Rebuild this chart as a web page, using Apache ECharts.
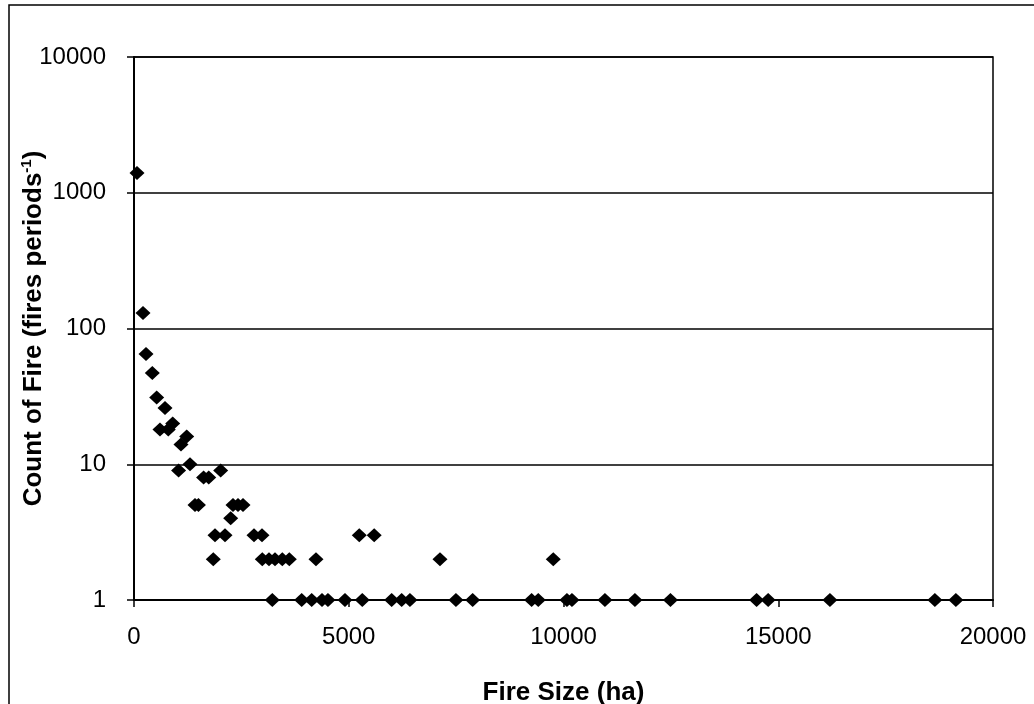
<!DOCTYPE html>
<html>
<head>
<meta charset="utf-8">
<script src="https://cdn.jsdelivr.net/npm/echarts@6/dist/echarts.min.js"></script>
<style>
  html, body { margin: 0; padding: 0; background: #ffffff; }
  #chart { width: 1034px; height: 704px; }
</style>
</head>
<body>
<div id="chart"></div>
<script>
// Fire size (ha) and number of fires per period
const sizeHa = [
  70, 210, 280, 426, 528, 722, 605, 798, 901, 1227, 1094, 1038, 1304,
  1620, 1740, 2018, 1420, 1500, 2305, 2421, 2538, 2251, 1886, 2119,
  2794, 2980, 1846, 2987, 3143, 3283, 3453, 3616, 4237, 5245, 5592,
  7124, 9762,
  3220, 3904, 4137, 4377, 4516, 4912, 5315, 5999, 6232, 6425, 7496,
  7885, 9258, 9412, 10080, 10197, 10965, 11663, 12490, 14496, 14765,
  16203, 18647, 19136
];
const fireCount = [
  1400, 130, 65, 47, 31, 26, 18, 18, 20, 16, 14, 9, 10,
  8, 8, 9, 5, 5, 5, 5, 5, 4, 3, 3,
  3, 3, 2, 2, 2, 2, 2, 2, 2, 3, 3,
  2, 2,
  1, 1, 1, 1, 1, 1, 1, 1, 1, 1, 1,
  1, 1, 1, 1, 1, 1, 1, 1, 1, 1,
  1, 1, 1
];
const xTicks = { min: 0, max: 20000, step: 5000 };
const yTicks = { min: 1, max: 10000 };

const points = sizeHa.map((s, i) => [s, fireCount[i]]);

const FONT = '"Liberation Sans", Arial, sans-serif';
const chart = echarts.init(document.getElementById('chart'), null, { renderer: 'canvas' });

chart.setOption({
  animation: false,
  backgroundColor: '#ffffff',
  grid: {
    left: 134, right: 41, top: 57, bottom: 104,
    containLabel: false,
    outerBoundsMode: 'none',
    show: true, borderColor: '#000', borderWidth: 1.5, backgroundColor: 'transparent'
  },
  // frame around the whole figure (left and top edges fall inside the canvas)
  graphic: [{
    type: 'rect',
    shape: { x: 9, y: 5, width: 1200, height: 900 },
    style: { fill: 'none', stroke: '#000', lineWidth: 1.5 },
    silent: true
  }],
  xAxis: {
    type: 'value',
    min: xTicks.min, max: xTicks.max, interval: xTicks.step,
    name: 'Fire Size (ha)',
    nameLocation: 'middle',
    nameGap: 80,
    nameMoveOverlap: false,
    nameTextStyle: { fontFamily: FONT, fontSize: 26, fontWeight: 'bold', color: '#000' },
    axisLine: { show: true, lineStyle: { color: '#000', width: 2 } },
    axisTick: { show: true, inside: false, length: 7, lineStyle: { color: '#000', width: 1.5 } },
    axisLabel: { fontFamily: FONT, fontSize: 24, color: '#000', margin: 25, formatter: v => String(v) },
    splitLine: { show: false }
  },
  yAxis: {
    type: 'log',
    logBase: 10,
    min: yTicks.min, max: yTicks.max,
    name: '{t|Count of Fire (fires periods}{s|-1}{t|)}',
    nameLocation: 'middle',
    nameGap: 85,
    nameRotate: 90,
    nameMoveOverlap: false,
    nameTextStyle: {
      fontFamily: FONT, fontSize: 26, fontWeight: 'bold', color: '#000',
      rich: {
        t: { fontFamily: FONT, fontSize: 26, fontWeight: 'bold', color: '#000', lineHeight: 30 },
        s: { fontFamily: FONT, fontSize: 15, fontWeight: 'bold', color: '#000', verticalAlign: 'top', lineHeight: 30 }
      }
    },
    axisLine: { show: true, lineStyle: { color: '#000', width: 2 } },
    axisTick: { show: true, inside: false, length: 7, lineStyle: { color: '#000', width: 1.5 } },
    axisLabel: { fontFamily: FONT, fontSize: 24, color: '#000', margin: 28, formatter: v => String(Math.round(v)) },
    splitLine: { show: true, lineStyle: { color: '#000', width: 1.5 } }
  },
  series: [{
    type: 'scatter',
    data: points,
    symbol: 'diamond',
    symbolSize: [15, 14],
    itemStyle: { color: '#000', opacity: 1 },
    clip: false
  }]
});
</script>
</body>
</html>
